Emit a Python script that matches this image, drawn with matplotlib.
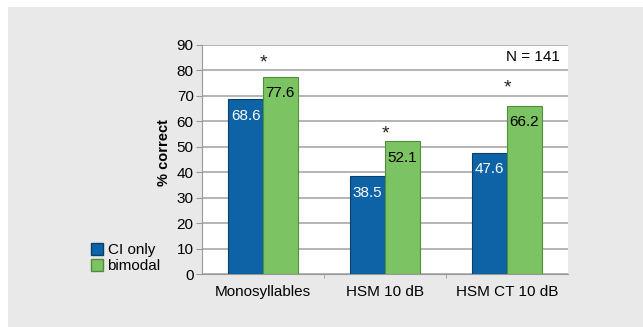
import matplotlib
matplotlib.use("Agg")
import matplotlib.pyplot as plt
from matplotlib.patches import Rectangle, Patch
import numpy as np

categories = ["Monosyllables", "HSM 10 dB", "HSM CT 10 dB"]
ci_only = [68.6, 38.5, 47.6]
bimodal = [77.6, 52.1, 66.2]
star_heights = [83.0, 55.0, 73.0]
series_names = ["CI only", "bimodal"]
y_ticks = [0, 10, 20, 30, 40, 50, 60, 70, 80, 90]
n_label = "N = 141"

plt.rcParams['font.family'] = ['Liberation Sans', 'DejaVu Sans']

W, H = 643, 327
fig = plt.figure(figsize=(W / 100, H / 100), dpi=100)
fig.patch.set_facecolor("white")
fig.patches.append(Rectangle((8 / W, 0), 1, 1 - 7 / H, transform=fig.transFigure,
                             facecolor="#e9e9e9", edgecolor="none", zorder=-10))

ax = fig.add_axes([202 / W, 1 - 274 / H, (568 - 202) / W, (274 - 45) / H])
ax.set_facecolor("white")

blue = "#0d63a5"
blue_edge = "#0a3f6e"
green = "#7bc363"
green_edge = "#4f8f3c"

x = np.arange(len(categories))
w = 0.285
ax.bar(x - w / 2, ci_only, w, color=blue, edgecolor=blue_edge, linewidth=0.8, zorder=3)
ax.bar(x + w / 2, bimodal, w, color=green, edgecolor=green_edge, linewidth=0.8, zorder=3)

for i in range(len(categories)):
    ax.text(x[i] - w / 2, ci_only[i] - 6.5, f"{ci_only[i]:.1f}", ha="center", va="center",
            color="white", fontsize=11, zorder=4)
    ax.text(x[i] + w / 2, bimodal[i] - 6.5, f"{bimodal[i]:.1f}", ha="center", va="center",
            color="black", fontsize=11, zorder=4)
    ax.text(x[i], star_heights[i], "*", ha="center", va="center", fontsize=14, color="#222222")

ax.text(2.43, 85.3, n_label, ha="right", va="center", fontsize=11)

ax.set_xlim(-0.5, 2.5)
ax.set_ylim(0, 90)
ax.set_yticks(y_ticks)
ax.set_yticklabels([str(t) for t in y_ticks], fontsize=11)
ax.set_xticks(x)
ax.set_xticklabels(categories, fontsize=11)
ax.tick_params(axis="x", length=0, pad=8)
ax.set_xticks([0.5, 1.5], minor=True)
ax.tick_params(axis="x", which="minor", length=3, color="#999999")
ax.tick_params(axis="y", length=4, color="#999999", pad=2)
ax.yaxis.grid(True, color="#a0a0a0", linewidth=1.1, zorder=0)
ax.set_axisbelow(True)
for s in ["top", "right"]:
    ax.spines[s].set_visible(False)
ax.spines["left"].set_color("#999999")
ax.spines["bottom"].set_color("#999999")

ax.set_ylabel("% correct", fontsize=10.5, fontweight="bold")
ax.yaxis.set_label_coords(-0.085, 0.53)

handles = [Patch(facecolor=blue, edgecolor=blue_edge), Patch(facecolor=green, edgecolor=green_edge)]
fig.legend(handles, series_names, loc="lower left", bbox_to_anchor=(80 / W, 1 - 284 / H),
           frameon=False, fontsize=11, handlelength=0.8, handleheight=0.9,
           handletextpad=0.3, labelspacing=0.1, borderpad=0.2)

fig.savefig("out.png", dpi=100)
